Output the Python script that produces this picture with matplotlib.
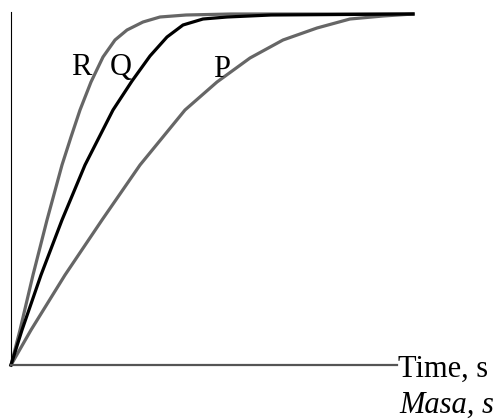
import matplotlib
matplotlib.use('Agg')
import matplotlib.pyplot as plt

# curves (x = time, y = mass, arbitrary units)
r_x = [0, 9, 22, 36, 51, 60, 69, 80, 92, 104, 116, 132, 149, 175, 220, 402]
r_y = [0, 35, 90, 145, 200, 228, 255, 283, 308, 325, 335, 343, 348, 350, 351, 351]

q_x = [0, 11, 30, 51, 74, 102, 121, 139, 156, 172, 192, 216, 260, 402]
q_y = [0, 35, 90, 145, 200, 255, 284, 309, 328, 340, 346, 348, 350, 351]

p_x = [0, 20, 54, 91, 129, 174, 206, 239, 272, 306, 339, 372, 402]
p_y = [0, 35, 90, 145, 200, 255, 283, 307, 325, 337, 346, 349, 351]

labels = ['R', 'Q', 'P']
label_pos = [(60, 290), (99, 290), (202, 288)]

fig = plt.figure(figsize=(4.99, 4.19), dpi=100)
ax = fig.add_axes([11 / 499, 54 / 419, 401 / 499, 353 / 419])
ax.set_xlim(0, 401)
ax.set_ylim(0, 353)

ax.plot(p_x, p_y, color='#666666', lw=2.3, solid_joinstyle='round', clip_on=False)
ax.plot(r_x, r_y, color='#666666', lw=2.3, solid_joinstyle='round', clip_on=False)
ax.plot(q_x, q_y, color='black', lw=2.3, solid_joinstyle='round', clip_on=False)

for lab, (lx, ly) in zip(labels, label_pos):
  ax.text(lx, ly, lab, fontsize=22, family='Liberation Serif', ha='left', va='baseline')

ax.text(387, -12, 'Time, s', fontsize=22, family='Liberation Serif', ha='left', va='baseline', clip_on=False)
ax.text(388, -48, 'Masa, s', fontsize=22, family='Liberation Serif', style='italic', ha='left', va='baseline', clip_on=False)

# axes: thin black vertical, thicker gray horizontal
ax.spines['top'].set_visible(False)
ax.spines['right'].set_visible(False)
ax.spines['left'].set_color('black')
ax.spines['left'].set_linewidth(0.8)
ax.spines['bottom'].set_color('#555555')
ax.spines['bottom'].set_linewidth(1.6)
ax.spines['bottom'].set_bounds(0, 386)
ax.set_xticks([])
ax.set_yticks([])
ax.patch.set_alpha(0)

fig.savefig('out.png', dpi=100)
